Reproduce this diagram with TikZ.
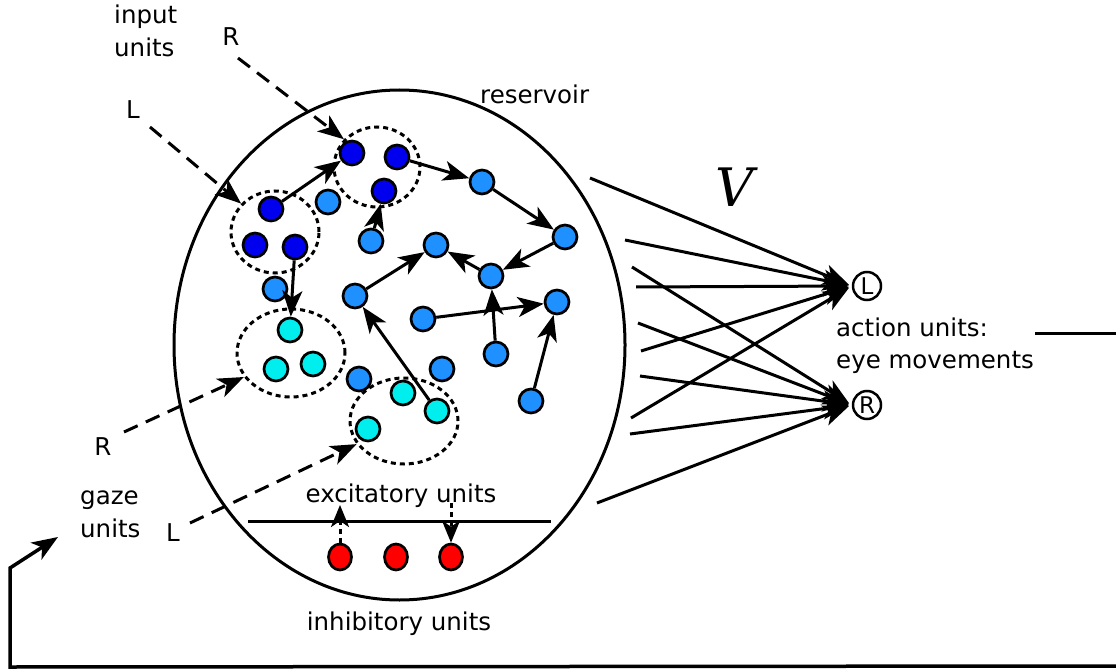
\documentclass[tikz,border=0pt]{standalone}
\usepackage{fontspec}
\setmainfont{DejaVu Sans}
\newfontfamily\vfont{DejaVu Serif}
\usetikzlibrary{arrows.meta,shapes.geometric}
\definecolor{dblue}{RGB}{0,0,238}
\definecolor{lblue}{RGB}{30,144,255}
\definecolor{cyanu}{RGB}{0,238,238}
\definecolor{redu}{RGB}{255,0,0}
\begin{document}
\begin{tikzpicture}[x=1pt,y=-1pt,
  lbl/.style={font=\fontsize{24.5}{33}\selectfont, inner sep=0pt},
  unit/.style={circle, draw=black, line width=2.7pt, minimum size=24pt, inner sep=0pt},
  dn/.style={unit, fill=dblue},
  ln/.style={unit, fill=lblue},
  cn/.style={unit, fill=cyanu},
  rn/.style={ellipse, draw=black, line width=2.7pt, fill=redu, minimum width=23pt, minimum height=26pt, inner sep=0pt},
  grp/.style={ellipse, draw=black, line width=3pt, dash pattern=on 5pt off 4pt, inner sep=0pt},
  conn/.style={line width=3pt, -{Stealth[length=26pt,width=20pt,inset=7pt]}},
  inarrow/.style={line width=3pt, dash pattern=on 15pt off 9pt, -{Stealth[length=26pt,width=20pt,inset=7pt]}},
  inharrow/.style={line width=3pt, dash pattern=on 5pt off 4pt, -{Stealth[length=22pt,width=18pt,inset=6pt]}},
  outarrow/.style={line width=3pt, -{Stealth[length=26pt,width=21pt,inset=7pt]}},
  actu/.style={circle, draw=black, line width=2.5pt, minimum size=28pt, inner sep=0pt, font=\fontsize{23}{23}\selectfont}
]
\useasboundingbox (0,0) rectangle (1116,671);

% reservoir
\node[ellipse, draw=black, line width=3pt, minimum width=451pt, minimum height=510pt, inner sep=0pt] (res) at (399.5,345) {};

% groups
\node[grp, minimum width=86pt, minimum height=80pt] (gA) at (377,167) {};
\node[grp, minimum width=88pt, minimum height=82pt] (gB) at (275,232) {};
\node[grp, minimum width=108pt, minimum height=88pt] (gC) at (291,353) {};
\node[grp, minimum width=108pt, minimum height=86pt] (gD) at (404,421) {};

% dark blue units
\node[dn] (a1) at (352,153) {};
\node[dn] (a2) at (397,157) {};
\node[dn] (a3) at (384,191) {};
\node[dn] (b1) at (271,209) {};
\node[dn] (b2) at (255,245) {};
\node[dn] (b3) at (295,247) {};
% cyan units
\node[cn] (c1) at (290,330) {};
\node[cn] (c2) at (276,369) {};
\node[cn] (c3) at (313,364) {};
\node[cn] (d1) at (403,393) {};
\node[cn] (d2) at (437,411) {};
\node[cn] (d3) at (368,429) {};
% light blue units
\node[ln] (l1) at (328,202) {};
\node[ln] (l2) at (371,241) {};
\node[ln] (l3) at (482,182) {};
\node[ln] (l4) at (565,237) {};
\node[ln] (l5) at (436,245) {};
\node[ln] (l6) at (491,276) {};
\node[ln] (l7) at (275,289) {};
\node[ln] (l8) at (355,296) {};
\node[ln] (l9) at (423,319) {};
\node[ln] (l10) at (557,302) {};
\node[ln] (l11) at (496,354) {};
\node[ln] (l12) at (359,379) {};
\node[ln] (l13) at (442,369) {};
\node[ln] (l14) at (531,401) {};

% internal connections
\draw[conn] (b1) -- (a1);
\draw[conn] (a2) -- (l3);
\draw[conn] (l3) -- (l4);
\draw[conn] (l4) -- (l6);
\draw[conn] (l6) -- (l5);
\draw[conn] (l8) -- (l5);
\draw[conn] (l2) -- (a3);
\draw[conn] (b3) -- (c1);
\draw[conn] (l9) -- (l10);
\draw[conn] (l11) -- (l6);
\draw[conn] (l14) -- (l10);
\draw[conn] (d2) -- (l8);

% inhibitory units
\node[rn] (r1) at (340,557) {};
\node[rn] (r2) at (396,557) {};
\node[rn] (r3) at (451,557) {};
\coordinate (hl) at (248,521);
\coordinate (hr) at (551,521);
\draw[line width=3pt] (hl) -- (hr);
\coordinate (exup) at (340,505);
\coordinate (exdn) at (451,503);
\draw[inharrow] (r1.north) -- (exup);
\draw[inharrow] (exdn) -- (r3.north);

% labels
\node[lbl, anchor=base west] (tin1) at (114,24) {input};
\node[lbl, anchor=base west] (tin2) at (114,57) {units};
\node[lbl, anchor=base] (tR1) at (231,46) {R};
\node[lbl, anchor=base] (tL1) at (133,119) {L};
\node[lbl, anchor=base west] (tres) at (480,104) {reservoir};
\node[lbl, anchor=base] (tR2) at (103,455) {R};
\node[lbl, anchor=base west] (tgz1) at (80,504) {gaze};
\node[lbl, anchor=base west] (tgz2) at (80,537) {units};
\node[lbl, anchor=base] (tL2) at (173,541) {L};
\node[lbl, anchor=base] (texc) at (401,502) {excitatory units};
\node[lbl, anchor=base] (tinh) at (399,630) {inhibitory units};
\node[lbl, anchor=base west] (tact1) at (836,336) {action units:};
\node[lbl, anchor=base west] (tact2) at (836,368) {eye movements};
\node[inner sep=0pt, anchor=base, font=\fontsize{53}{53}\selectfont\vfont\itshape] (tV) at (735,207) {V};

% input arrows
\coordinate (sR1) at (238,58);
\coordinate (sL1) at (150,127);
\coordinate (sR2) at (124,432);
\coordinate (sL2) at (190,523);
\draw[inarrow] (sR1) -- (gA.140);
\draw[inarrow] (sL1) -- (gB.140);
\draw[inarrow] (sR2) -- (gC.207);
\draw[inarrow] (sL2) -- (gD.206);

% action units
\node[actu] (aL) at (867,286) {L};
\node[actu] (aR) at (867,405) {R};

% output connections V
\coordinate (o1) at (590,178);
\coordinate (o2) at (625,240);
\coordinate (o3) at (632,267);
\coordinate (o4) at (636,287);
\coordinate (o5) at (638,323);
\coordinate (o6) at (641,351);
\coordinate (o7) at (640,376);
\coordinate (o8) at (631,418);
\coordinate (o9) at (630,434);
\coordinate (o10) at (597,503);
\draw[outarrow, shorten >=3pt] (o1) -- (aL.west);
\draw[outarrow, shorten >=3pt] (o2) -- (aL.west);
\draw[outarrow, shorten >=3pt] (o4) -- (aL.west);
\draw[outarrow, shorten >=3pt] (o6) -- (aL.west);
\draw[outarrow, shorten >=3pt] (o8) -- (aL.west);
\draw[outarrow, shorten >=3pt] (o3) -- (aR.west);
\draw[outarrow, shorten >=3pt] (o5) -- (aR.west);
\draw[outarrow, shorten >=3pt] (o7) -- (aR.west);
\draw[outarrow, shorten >=3pt] (o9) -- (aR.west);
\draw[outarrow, shorten >=3pt] (o10) -- (aR.west);

% feedback loop
\coordinate (fA) at (1035,333);
\coordinate (fB) at (1116,333);
\coordinate (fC) at (1116,666);
\coordinate (fD) at (10,667);
\coordinate (fE) at (10,568);
\coordinate (fF) at (58,537);
\draw[line width=3pt] (fA) -- (fB);
\draw[line width=3.5pt, -{Stealth[length=26pt,width=20pt,inset=7pt]}] (fC) -- (fD) -- (fE) -- (fF);
\end{tikzpicture}
\end{document}
